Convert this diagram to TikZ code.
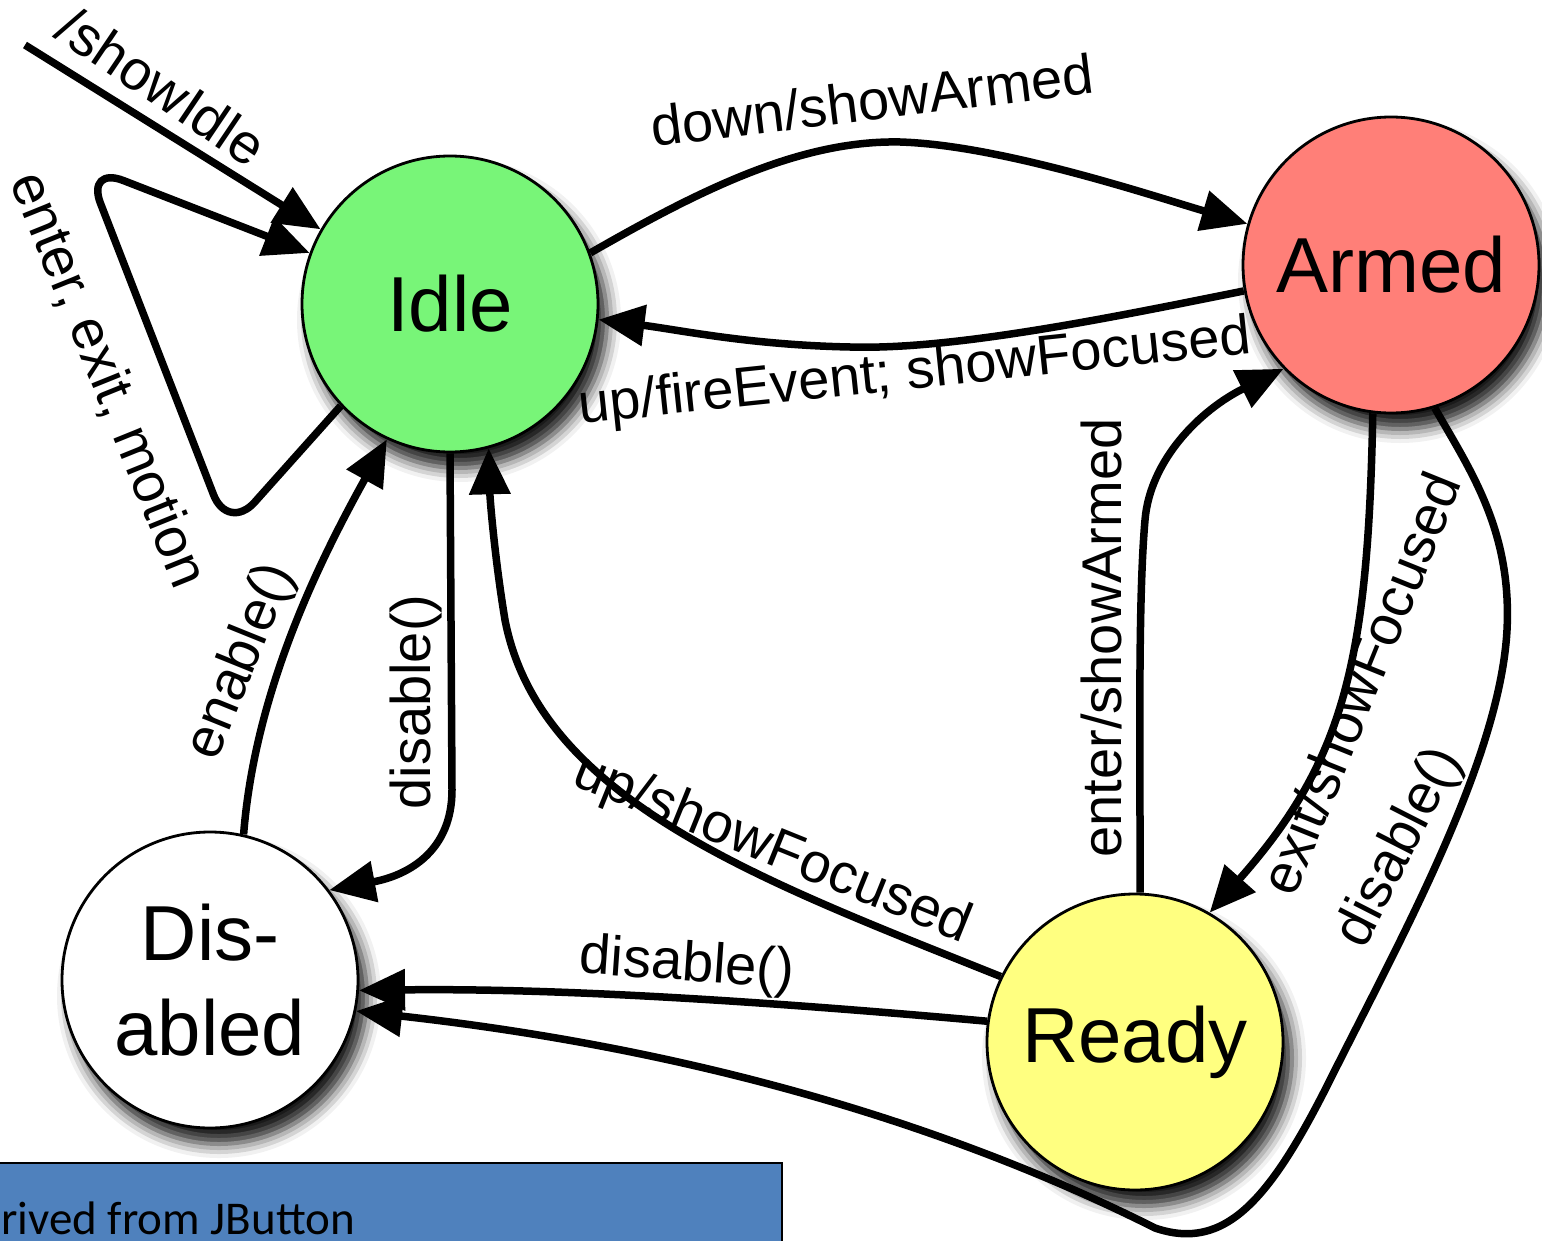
\documentclass[tikz,border=0pt]{standalone}
\usepackage{fontspec}
\setmainfont{Liberation Sans}
\newfontfamily\notefont{Carlito}
\usepackage{tikz}
\usetikzlibrary{arrows.meta}
\usetikzlibrary{shadows.blur}
\usetikzlibrary{calc}
\definecolor{idlegreen}{HTML}{78F578}
\definecolor{armedred}{HTML}{FF7F78}
\definecolor{readyyellow}{HTML}{FFFF80}
\definecolor{noteblue}{HTML}{4F81BD}
\tikzstyle{state} = [draw, circle, line width = 2.8pt, minimum size = 296pt, inner sep = 0pt, align = center, font = \fontsize{78}{95}\selectfont, blur shadow = {shadow xshift = 9pt, shadow yshift = -16pt, shadow blur radius = 14pt, shadow opacity = 90}]
\tikzstyle{arrow} = [line width = 7.5pt, -{Triangle[length = 46pt, width = 40pt]}]
\tikzstyle{trans} = [font = \fontsize{56}{60}\selectfont, inner sep = 0pt]
\begin{document}
\begin{tikzpicture}[x = 1pt, y = -1pt]
	\useasboundingbox (0, 0) rectangle (1542, 1241);

		% States
		\node[state, fill = idlegreen] (idle) at (450, 304) {Idle};
		\node[state, fill = armedred] (armed) at (1391, 265) {Armed};
		\node[state, fill = white] (disabled) at (210, 980) {Dis-\\abled};
		\node[state, fill = readyyellow] (ready) at (1135, 1042) {Ready};

		% Initial transition
		\coordinate (start) at (25, 45);
		\draw[arrow] (start) -- (idle.150);
		\node[trans, rotate = -34] (showidle) at (162, 86) {/showIdle};

		% Self loop on Idle
		\draw[arrow, rounded corners = 40pt] (idle.223) -- (228, 532) -- (86, 166) -- (idle.160);
		\node[trans, rotate = -68] (loop) at (108, 380) {enter, exit, motion};

		% Idle <-> Armed
		\draw[arrow] (idle.20) .. controls (700, 190) and (800, 140) .. (900, 142)
			.. controls (1000, 145) and (1150, 195) .. (armed.164);
		\node[trans, rotate = 7] (down) at (872, 100) {down/showArmed};
		\draw[arrow] (armed.190) .. controls (1100, 320) and (950, 350) .. (850, 347)
			.. controls (750, 345) and (680, 330) .. (idle.-6);
		\node[trans, rotate = 6] (up) at (915, 374) {up/fireEvent; showFocused};

		% Idle <-> Disabled
		\draw[arrow] (disabled.77) .. controls (255, 690) and (320, 560) .. (idle.245);
		\node[trans, rotate = 68] (enable) at (242, 662) {enable()};
		\draw[arrow] (idle.-90) -- (452, 790) .. controls (452, 850) and (410, 875) .. (disabled.37);
		\node[trans, rotate = 90] (disidle) at (416, 702) {disable()};

		% Ready -> Idle
		\draw[arrow] (ready.154) .. controls (760, 880) and (540, 800) .. (505, 620)
			.. controls (495, 560) and (490, 500) .. (idle.-75);
		\node[trans, rotate = -22] (upfocus) at (772, 850) {up/showFocused};

		% Ready -> Disabled
		\draw[arrow] (ready.172) .. controls (750, 1000) and (550, 988) .. (disabled.-4);
		\node[trans, rotate = -4] (disready) at (687, 966) {disable()};

		% Ready <-> Armed
		\draw[arrow] (ready.88) .. controls (1140, 750) and (1138, 600) .. (1145, 520)
			.. controls (1150, 460) and (1200, 410) .. (armed.224);
		\node[trans, rotate = 90] (enter) at (1101, 638) {enter/showArmed};
		\draw[arrow] (armed.263) .. controls (1368, 660) and (1345, 760) .. (ready.60);
		\node[trans, rotate = 68] (exit) at (1360, 683) {exit/showFocused};

		% Armed -> Disabled
		\draw[arrow] (armed.287) .. controls (1470, 470) and (1512, 530) .. (1507, 630)
			.. controls (1500, 760) and (1400, 940) .. (1330, 1080)
			.. controls (1270, 1200) and (1225, 1252) .. (1155, 1228)
			.. controls (1000, 1150) and (750, 1055) .. (disabled.-12);
		\node[trans, rotate = 63] (disarmed) at (1400, 848) {disable()};

		% Note box
		\draw[line width = 2.5pt, fill = noteblue] (-10, 1163) rectangle (782, 1260);
		\node[anchor = base west, inner sep = 0pt, font = \notefont\fontsize{47}{50}\selectfont] (note) at (1, 1234) {rived from JButton};

\end{tikzpicture}
\end{document}
